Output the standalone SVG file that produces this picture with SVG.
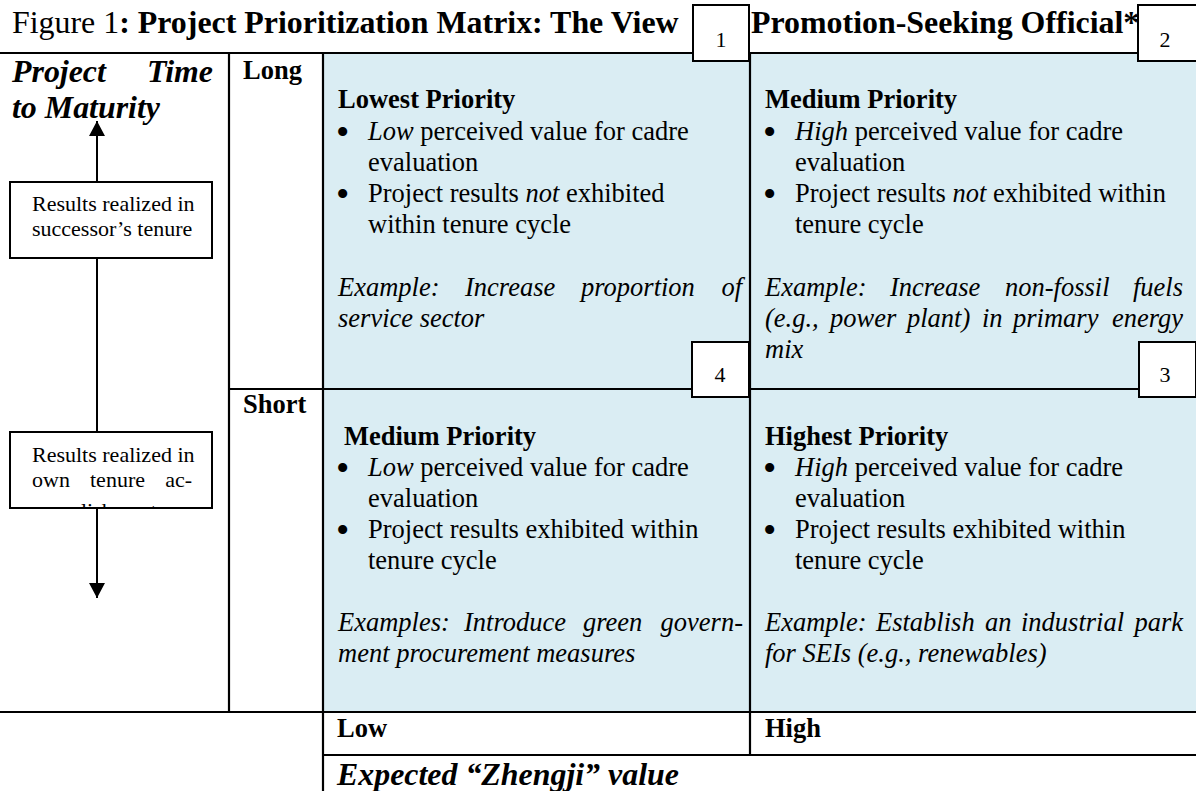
<svg xmlns="http://www.w3.org/2000/svg" width="1196" height="791" viewBox="0 0 1196 791">
<defs>
<style>
.t{font-family:"Liberation Serif","Times New Roman",serif;fill:#000}
.body{font-size:26.5px}
.big{font-size:31.9px}
.sm{font-size:22px}
.bd{font-weight:bold}
.it{font-style:italic}
.bul{font-size:38px}
.ln{stroke:#000;stroke-width:2.2;fill:none}
.box{fill:#fff;stroke:#000;stroke-width:2}
.ax{stroke:#000;stroke-width:2;fill:none}
</style>
<marker id="ah" markerUnits="userSpaceOnUse" markerWidth="16" markerHeight="16" viewBox="0 0 15 16" refX="15" refY="8" orient="auto">
<path d="M0,0 L15,8 L0,16 z" fill="#000"/>
</marker>
<clipPath id="clipB2"><rect x="11" y="433" width="200" height="74"/></clipPath>
</defs>
<rect width="1196" height="791" fill="#fff"/>
<rect id="shade" x="323" y="53" width="873" height="659" fill="#daedf3"/>

<g id="title">
<text class="t big" x="12" y="33">Figure 1<tspan class="bd">: Project Prioritization Matrix: The View</tspan></text>
<text class="t big bd" x="751" y="33">Promotion-Seeking Official*</text>
</g>

<g id="grid">
<line class="ln" x1="0" y1="53" x2="1138" y2="53"/>
<line class="ln" x1="229" y1="53" x2="229" y2="712"/>
<line class="ln" x1="323" y1="53" x2="323" y2="791"/>
<line class="ln" x1="750" y1="53" x2="750" y2="755"/>
<line class="ln" x1="229" y1="389" x2="1196" y2="389"/>
<line class="ln" x1="0" y1="712" x2="1196" y2="712"/>
<line class="ln" x1="323" y1="755" x2="1196" y2="755"/>
</g>

<g id="axis-title">
<text class="t big bd it" x="12" y="82">Project</text>
<text class="t big bd it" x="213" y="82" text-anchor="end">Time</text>
<text class="t big bd it" x="12" y="118">to Maturity</text>
</g>

<g id="row-long"><text class="t body bd" x="243" y="79">Long</text></g>
<g id="row-short"><text class="t body bd" x="243" y="413">Short</text></g>

<g id="box-successor">
<rect class="box" x="10" y="182" width="202" height="76"/>
<text class="t sm" x="32" y="211">Results realized in</text>
<text class="t sm" x="32" y="236">successor’s tenure</text>
</g>

<g id="box-own">
<rect class="box" x="10" y="432" width="202" height="76"/>
<text class="t sm" x="32" y="462">Results realized in</text>
<text class="t sm" y="487"><tspan x="32">own</tspan><tspan x="90">tenure</tspan><tspan x="192" text-anchor="end">ac-</tspan></text>
<text class="t sm" x="32" y="518" clip-path="url(#clipB2)">complishment</text>
</g>

<g id="connectors">
<line class="ax" x1="97" y1="182" x2="97" y2="121" marker-end="url(#ah)"/>
<line class="ax" x1="97" y1="258" x2="97" y2="432"/>
<line class="ax" x1="97" y1="508" x2="97" y2="598" marker-end="url(#ah)"/>
</g>

<g id="q-lowest">
<text class="t body bd" x="338" y="108">Lowest Priority</text>
<text class="t bul" x="336" y="145">•</text>
<text class="t body" x="368" y="140"><tspan class="it">Low</tspan> perceived value for cadre</text>
<text class="t body" x="368" y="171">evaluation</text>
<text class="t bul" x="336" y="207">•</text>
<text class="t body" x="368" y="202">Project results <tspan class="it">not</tspan> exhibited</text>
<text class="t body" x="368" y="233">within tenure cycle</text>
<text class="t body it" y="296"><tspan x="338">Example:</tspan><tspan x="465">Increase</tspan><tspan x="581">proportion</tspan><tspan x="742" text-anchor="end">of</tspan></text>
<text class="t body it" x="338" y="327">service sector</text>
</g>

<g id="q-medium-top">
<text class="t body bd" x="765" y="108">Medium Priority</text>
<text class="t bul" x="763" y="145">•</text>
<text class="t body" x="795" y="140"><tspan class="it">High</tspan> perceived value for cadre</text>
<text class="t body" x="795" y="171">evaluation</text>
<text class="t bul" x="763" y="207">•</text>
<text class="t body" x="795" y="202">Project results <tspan class="it">not</tspan> exhibited within</text>
<text class="t body" x="795" y="233">tenure cycle</text>
<text class="t body it" y="296"><tspan x="765">Example:</tspan><tspan x="890">Increase</tspan><tspan x="1005">non-fossil</tspan><tspan x="1183" text-anchor="end">fuels</tspan></text>
<text class="t body it" y="327"><tspan x="765">(e.g.,</tspan><tspan x="830">power</tspan><tspan x="907">plant)</tspan><tspan x="982">in</tspan><tspan x="1013">primary</tspan><tspan x="1183" text-anchor="end">energy</tspan></text>
<text class="t body it" x="765" y="358">mix</text>
</g>

<g id="q-medium-bottom">
<text class="t body bd" x="344" y="445">Medium Priority</text>
<text class="t bul" x="336" y="481">•</text>
<text class="t body" x="368" y="476"><tspan class="it">Low</tspan> perceived value for cadre</text>
<text class="t body" x="368" y="507">evaluation</text>
<text class="t bul" x="336" y="543">•</text>
<text class="t body" x="368" y="538">Project results exhibited within</text>
<text class="t body" x="368" y="569">tenure cycle</text>
<text class="t body it" y="631"><tspan x="338">Examples:</tspan><tspan x="464">Introduce</tspan><tspan x="583">green</tspan><tspan x="743" text-anchor="end">govern-</tspan></text>
<text class="t body it" x="338" y="662">ment procurement measures</text>
</g>

<g id="q-highest">
<text class="t body bd" x="765" y="445">Highest Priority</text>
<text class="t bul" x="763" y="481">•</text>
<text class="t body" x="795" y="476"><tspan class="it">High</tspan> perceived value for cadre</text>
<text class="t body" x="795" y="507">evaluation</text>
<text class="t bul" x="763" y="543">•</text>
<text class="t body" x="795" y="538">Project results exhibited within</text>
<text class="t body" x="795" y="569">tenure cycle</text>
<text class="t body it" y="631"><tspan x="765">Example:</tspan><tspan x="876">Establish</tspan><tspan x="985">an</tspan><tspan x="1021">industrial</tspan><tspan x="1183" text-anchor="end">park</tspan></text>
<text class="t body it" x="765" y="662">for SEIs (e.g., renewables)</text>
</g>

<g id="col-low"><text class="t body bd" x="337" y="737">Low</text></g>
<g id="col-high"><text class="t body bd" x="765" y="737">High</text></g>
<g id="axis-x"><text class="t big bd it" x="337" y="785">Expected “Zhengji” value</text></g>

<g id="num1"><rect class="box" x="693" y="5" width="56" height="56"/><text class="t sm" x="721" y="47" text-anchor="middle">1</text></g>
<g id="num2"><rect class="box" x="1138" y="5" width="60" height="56"/><text class="t sm" x="1165" y="47" text-anchor="middle">2</text></g>
<g id="num4"><rect class="box" x="692" y="342" width="57" height="55"/><text class="t sm" x="720" y="382" text-anchor="middle">4</text></g>
<g id="num3"><rect class="box" x="1139" y="342" width="57" height="55"/><text class="t sm" x="1165" y="382" text-anchor="middle">3</text></g>
</svg>
